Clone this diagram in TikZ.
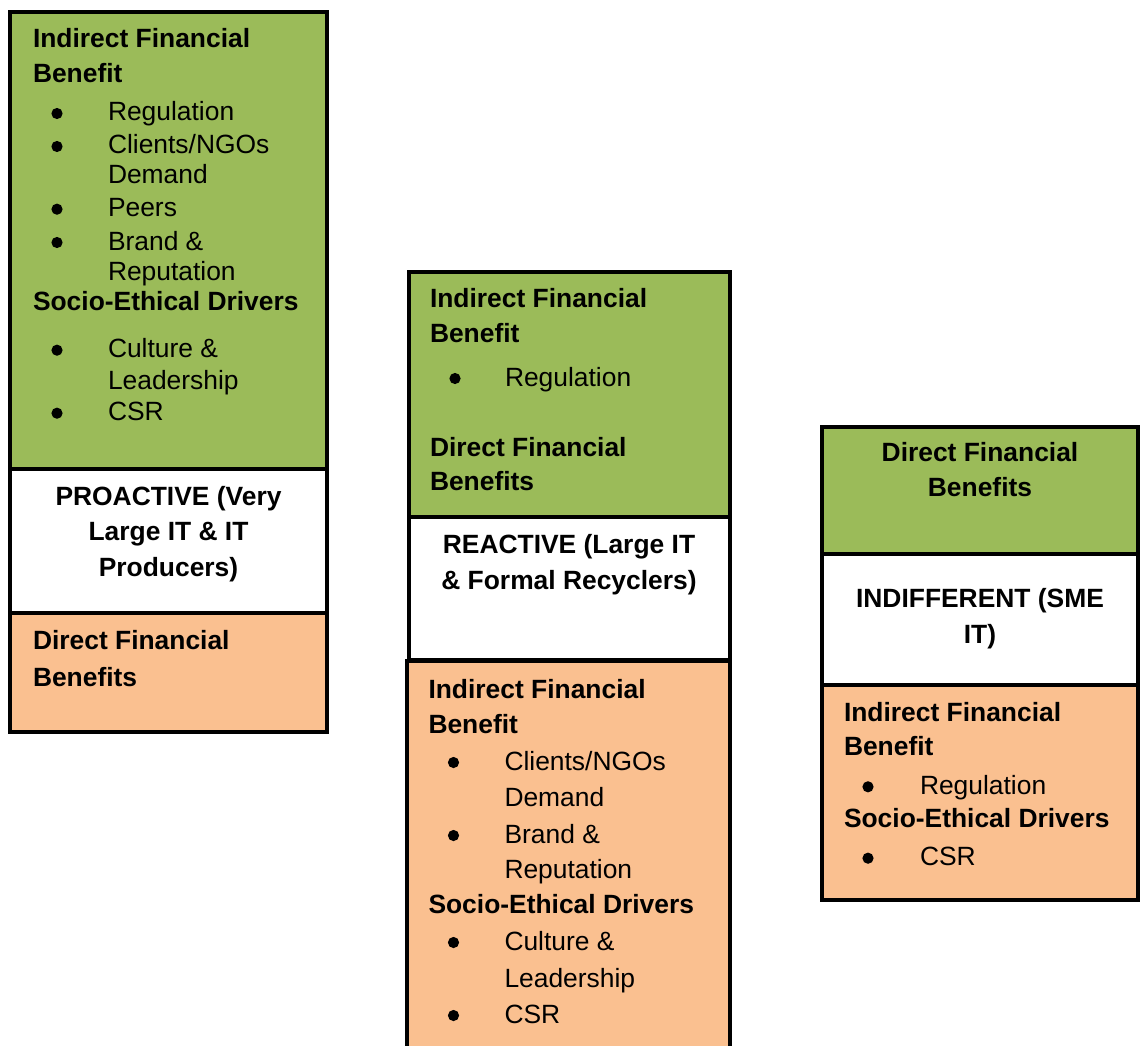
\documentclass[tikz,border=0pt]{standalone}
\usepackage{fontspec}
\setmainfont{Liberation Sans}
\definecolor{leaf}{RGB}{155,187,89}
\definecolor{peach}{RGB}{250,192,144}
\begin{document}
\begin{tikzpicture}[x=1pt,y=-1pt,
  every node/.style={inner sep=0pt,outer sep=0pt,font=\fontsize{26.4}{31}\selectfont},
  hd/.style={anchor=base west,font=\fontsize{26.4}{31}\selectfont\bfseries},
  it/.style={anchor=base west},
  ct/.style={anchor=base,font=\fontsize{26.4}{31}\selectfont\bfseries},
  band/.style={draw=black,line width=4pt},
  dot/.style={fill=black}]
\useasboundingbox (0,0) rectangle (1141,1046);
\clip (0,0) rectangle (1141,1046);

% ---------- column 1: proactive ----------
\filldraw[band,fill=leaf]  (10,12)  rectangle (327,469);
\filldraw[band,fill=white] (10,469) rectangle (327,613);
\filldraw[band,fill=peach] (10,613) rectangle (327,732);

\node[hd] (a1) at (33,48) {Indirect Financial};
\node[hd] (a2) at (33,83) {Benefit};
\fill[dot] (57,113.5) circle (5.6pt);
\node[it] (a3) at (108,121) {Regulation};
\fill[dot] (57,146.5) circle (5.6pt);
\node[it] (a4) at (108,154) {Clients/NGOs};
\node[it] (a5) at (108,184) {Demand};
\fill[dot] (57,209.2) circle (5.6pt);
\node[it] (a6) at (108,216.7) {Peers};
\fill[dot] (57,242.5) circle (5.6pt);
\node[it] (a7) at (108,250) {Brand \&};
\node[it] (a8) at (108,280) {Reputation};
\node[hd] (a9) at (33,310) {Socio-Ethical Drivers};
\fill[dot] (57,350.2) circle (5.6pt);
\node[it] (a10) at (108,357.7) {Culture \&};
\node[it] (a11) at (108,389.3) {Leadership};
\fill[dot] (57,413.2) circle (5.6pt);
\node[it] (a12) at (108,420.7) {CSR};

\node[ct] (a13) at (168.5,505) {PROACTIVE (Very};
\node[ct] (a14) at (168.5,540) {Large IT \& IT};
\node[ct] (a15) at (168.5,576) {Producers)};

\node[hd] (a16) at (33,649) {Direct Financial};
\node[hd] (a17) at (33,686.7) {Benefits};

% ---------- column 2: reactive ----------
\filldraw[band,fill=leaf]  (408.5,272) rectangle (730,517);
\filldraw[band,fill=white] (408.5,517) rectangle (730,660);
\filldraw[band,fill=peach] (407,661)   rectangle (730,1070);

\node[hd] (b1) at (430,307.7) {Indirect Financial};
\node[hd] (b2) at (430,342.7) {Benefit};
\fill[dot] (455,378.5) circle (5.6pt);
\node[it] (b3) at (505,386) {Regulation};
\node[hd] (b4) at (430,456) {Direct Financial};
\node[hd] (b5) at (430,490.7) {Benefits};

\node[ct] (b6) at (569,553) {REACTIVE (Large IT};
\node[ct] (b7) at (569,589) {\& Formal Recyclers)};

\node[hd] (b8)  at (428.5,698) {Indirect Financial};
\node[hd] (b9)  at (428.5,733) {Benefit};
\fill[dot] (453.5,762.5) circle (5.6pt);
\node[it] (b10) at (504.5,770) {Clients/NGOs};
\node[it] (b11) at (504.5,806) {Demand};
\fill[dot] (453.5,835.5) circle (5.6pt);
\node[it] (b12) at (504.5,843) {Brand \&};
\node[it] (b13) at (504.5,878) {Reputation};
\node[hd] (b14) at (428.5,913) {Socio-Ethical Drivers};
\fill[dot] (453.5,942.5) circle (5.6pt);
\node[it] (b15) at (504.5,950) {Culture \&};
\node[it] (b16) at (504.5,987) {Leadership};
\fill[dot] (453.5,1015.5) circle (5.6pt);
\node[it] (b17) at (504.5,1023) {CSR};

% ---------- column 3: indifferent ----------
\filldraw[band,fill=leaf]  (822,427)   rectangle (1137.5,554);
\filldraw[band,fill=white] (822,554)   rectangle (1137.5,684.5);
\filldraw[band,fill=peach] (822,684.5) rectangle (1137.5,900);

\node[ct] (c1) at (980,461.7) {Direct Financial};
\node[ct] (c2) at (980,496.7) {Benefits};

\node[ct] (c3) at (980,607.7) {INDIFFERENT (SME};
\node[ct] (c4) at (980,643) {IT)};

\node[hd] (c5) at (844,721) {Indirect Financial};
\node[hd] (c6) at (844,755.7) {Benefit};
\fill[dot] (868,786.8) circle (5.6pt);
\node[it] (c7) at (920,794.3) {Regulation};
\node[hd] (c8) at (844,827.7) {Socio-Ethical Drivers};
\fill[dot] (868,858.2) circle (5.6pt);
\node[it] (c9) at (920,865.7) {CSR};
\end{tikzpicture}
\end{document}
